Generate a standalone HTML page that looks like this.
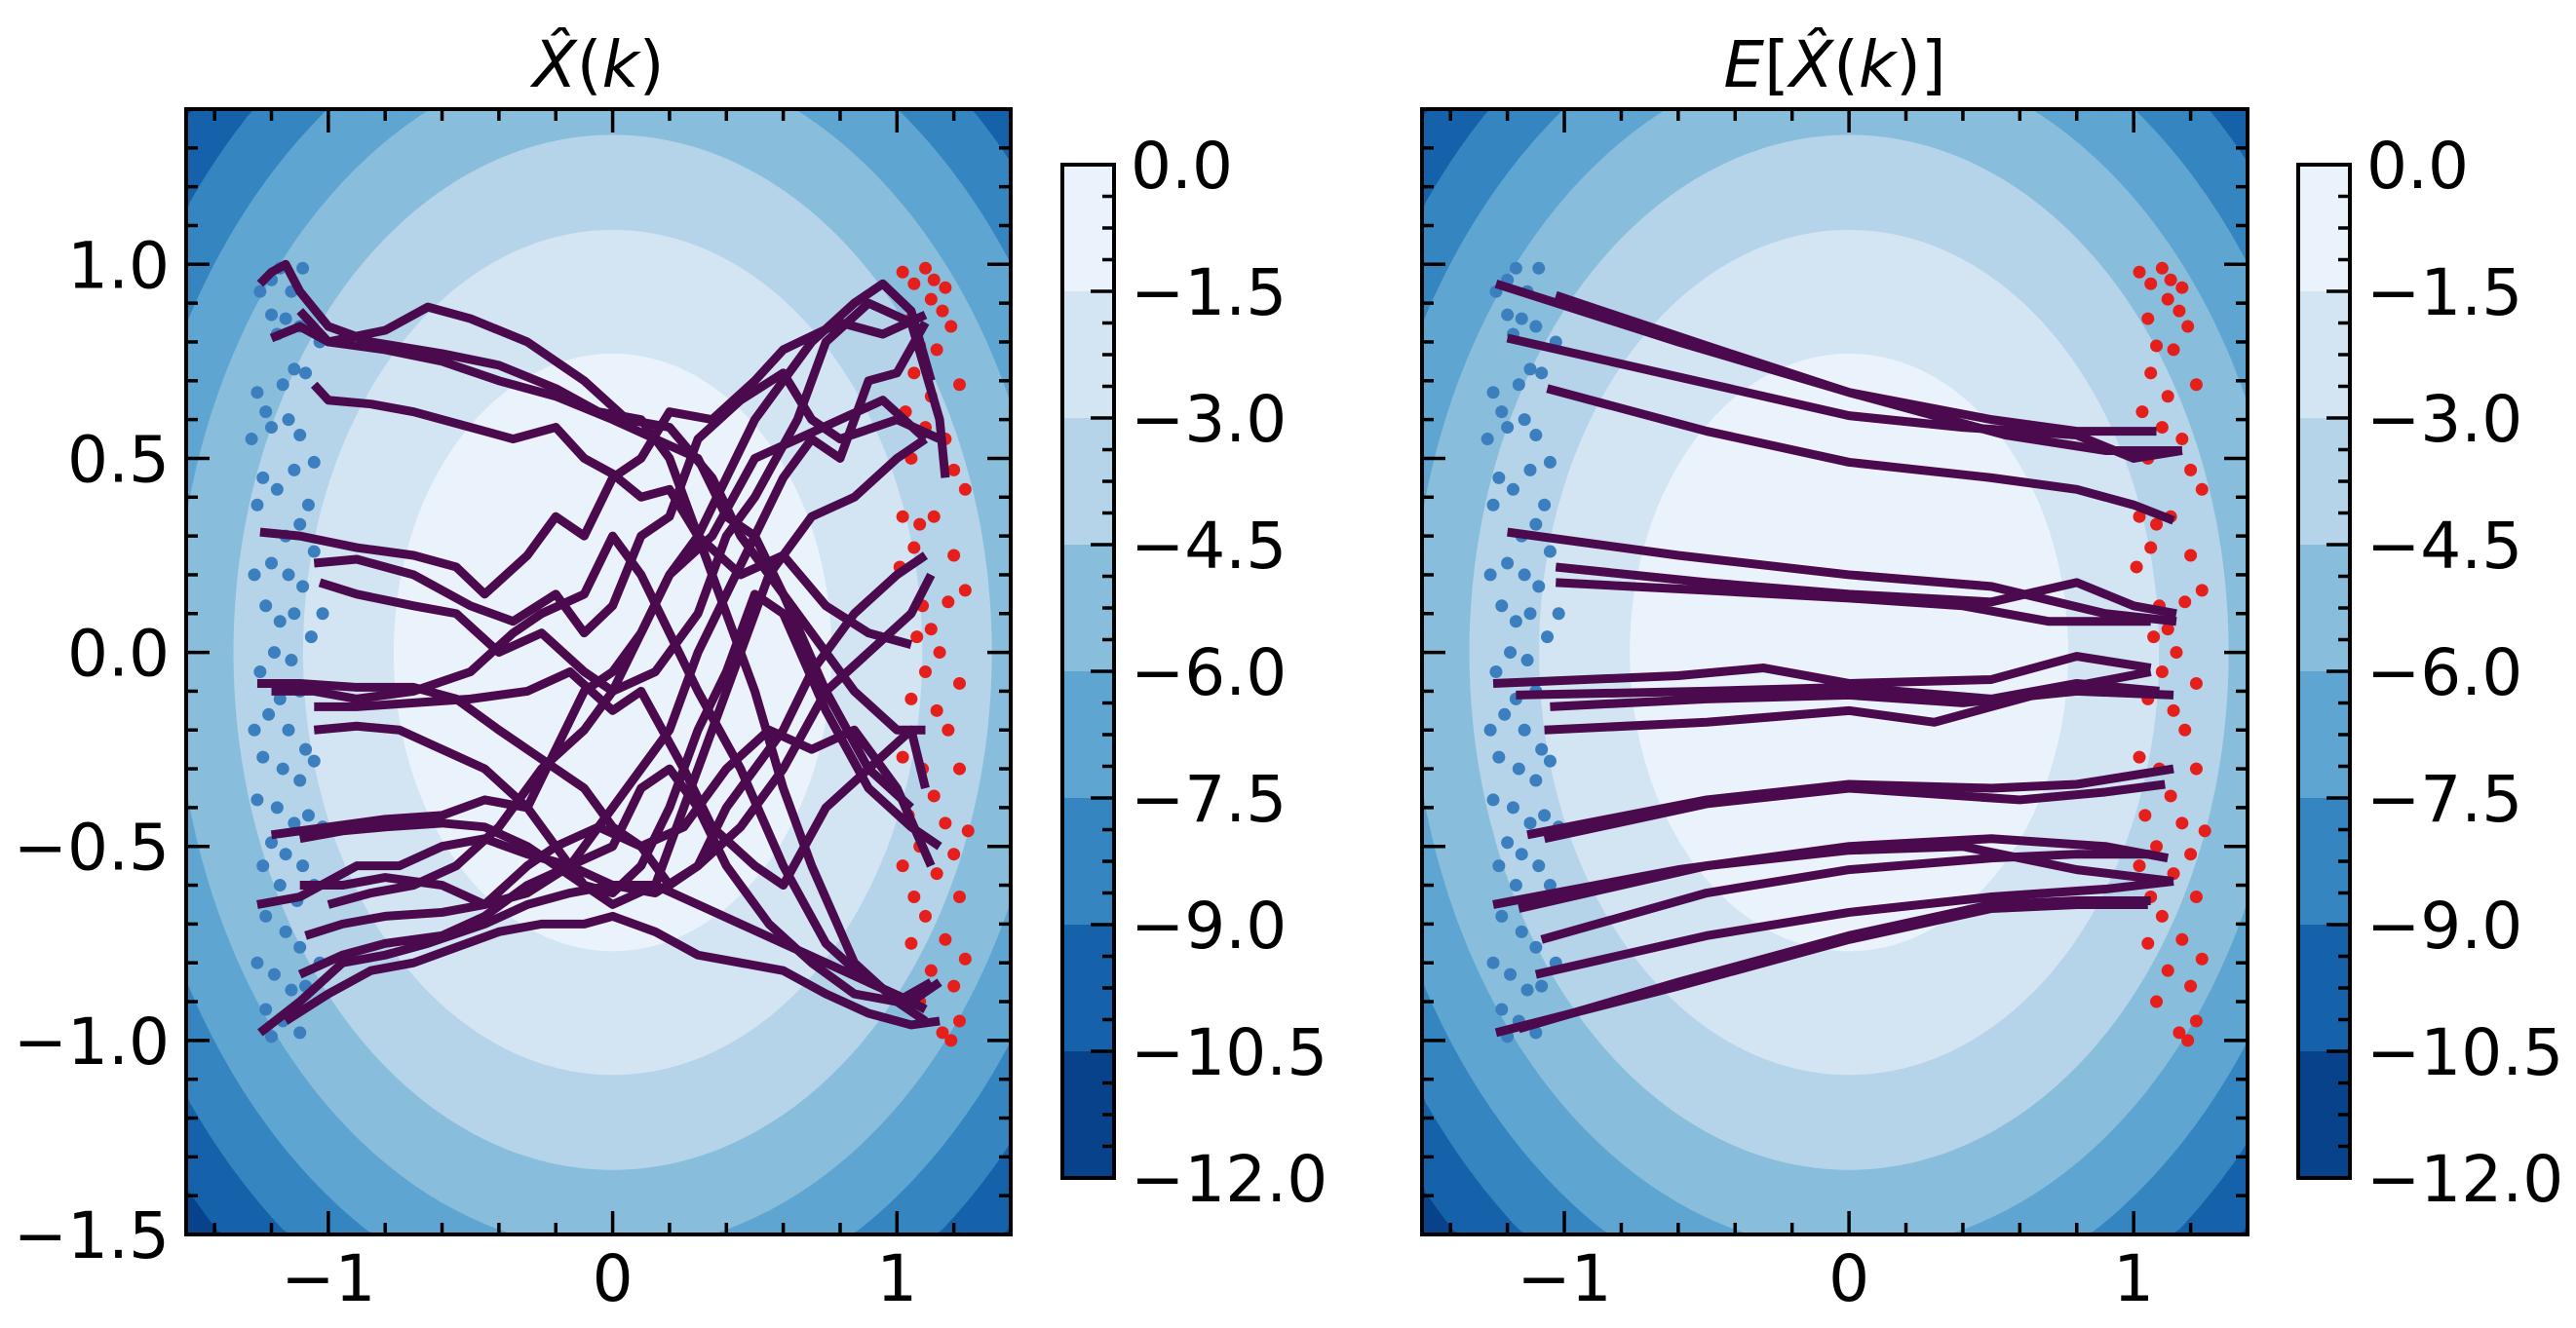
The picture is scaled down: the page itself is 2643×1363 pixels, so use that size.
<!DOCTYPE html>
<html><head><meta charset="utf-8"><style>
html,body{margin:0;padding:0;background:#fff;width:2643px;height:1363px;overflow:hidden}
svg{display:block}
text{font-family:"DejaVu Sans","Liberation Sans",sans-serif;font-size:66px;fill:#000}
</style></head><body>
<svg id="fig" width="2643" height="1363" viewBox="0 0 2643 1363" xmlns="http://www.w3.org/2000/svg"></svg>
<script>
// ---- data ----
const levels = [0, -1.5, -3, -4.5, -6, -7.5, -9, -10.5, -12];
const levelColors = ["#eaf3fb","#d3e4f3","#b5d4e9","#88bedc","#5ea5d1","#3585c0","#1662aa","#08428a"];
const contourCoef = 2.53; // f = -c (x^2 + y^2)
const xTicks = [-1, 0, 1];
const yTicks = [-1.5, -1.0, -0.5, 0.0, 0.5, 1.0];
const cbTicks = [0.0, -1.5, -3.0, -4.5, -6.0, -7.5, -9.0, -10.5, -12.0];
const bluePts = [[-1.24,0.93],[-1.2,0.96],[-1.17,0.99],[-1.13,0.93],[-1.09,0.99],[-1.2,0.87],[-1.15,0.86],[-1.1,0.84],[-1.18,0.82],[-1.25,0.67],[-1.22,0.62],[-1.16,0.69],[-1.12,0.73],[-1.08,0.72],[-1.2,0.58],[-1.14,0.6],[-1.1,0.56],[-1.05,0.49],[-1.23,0.45],[-1.18,0.42],[-1.12,0.47],[-1.07,0.38],[-1.25,0.38],[-1.15,0.3],[-1.1,0.33],[-1.05,0.26],[-1.2,0.23],[-1.14,0.2],[-1.09,0.17],[-1.22,0.12],[-1.17,0.08],[-1.12,0.1],[-1.06,0.04],[-1.19,0.0],[-1.13,-0.02],[-1.24,-0.05],[-1.17,-0.12],[-1.1,-0.1],[-1.21,-0.16],[-1.14,-0.2],[-1.08,-0.25],[-1.23,-0.27],[-1.16,-0.3],[-1.1,-0.33],[-1.05,-0.28],[-1.25,-0.38],[-1.18,-0.4],[-1.12,-0.44],[-1.07,-0.42],[-1.2,-0.49],[-1.15,-0.52],[-1.09,-0.55],[-1.23,-0.55],[-1.17,-0.6],[-1.11,-0.64],[-1.05,-0.6],[-1.22,-0.68],[-1.15,-0.72],[-1.1,-0.76],[-1.25,-0.8],[-1.19,-0.83],[-1.13,-0.87],[-1.08,-0.86],[-1.22,-0.92],[-1.16,-0.95],[-1.1,-0.98],[-1.2,-0.99],[-1.26,0.2],[-1.26,-0.2],[-1.03,0.8],[-1.03,-0.8],[-1.27,0.55],[-1.02,0.1],[-1.02,-0.45]];
const redPts = [[1.02,0.98],[1.06,0.95],[1.1,0.99],[1.13,0.96],[1.17,0.94],[1.12,0.91],[1.16,0.88],[1.05,0.86],[1.19,0.84],[1.08,0.79],[1.14,0.78],[1.22,0.69],[1.06,0.72],[1.12,0.66],[1.03,0.62],[1.1,0.58],[1.17,0.55],[1.05,0.5],[1.2,0.47],[1.24,0.42],[1.02,0.35],[1.08,0.33],[1.13,0.35],[1.06,0.27],[1.2,0.25],[1.24,0.16],[1.01,0.22],[1.09,0.12],[1.18,0.13],[1.12,0.06],[1.07,0.04],[1.15,0.0],[1.1,-0.05],[1.22,-0.08],[1.05,-0.12],[1.14,-0.15],[1.18,-0.2],[1.02,-0.27],[1.09,-0.3],[1.22,-0.3],[1.13,-0.37],[1.04,-0.42],[1.17,-0.44],[1.25,-0.46],[1.08,-0.5],[1.2,-0.52],[1.02,-0.55],[1.14,-0.57],[1.06,-0.63],[1.22,-0.63],[1.1,-0.68],[1.17,-0.74],[1.05,-0.75],[1.24,-0.79],[1.12,-0.82],[1.2,-0.86],[1.08,-0.9],[1.22,-0.95],[1.16,-0.98],[1.19,-1.0]];
const noisyLines = [
[[-1.24,0.95],[-1.2,0.98],[-1.15,1.0],[-1.1,0.93],[-1.0,0.84],[-0.85,0.8],[-0.6,0.77],[-0.4,0.74],[-0.2,0.68],[-0.05,0.62],[0.1,0.6],[0.2,0.5],[0.3,0.3],[0.4,0.1],[0.5,-0.1],[0.6,-0.35],[0.7,-0.55],[0.85,-0.8],[1.0,-0.9],[1.1,-0.95]],
[[-1.2,0.81],[-1.1,0.84],[-1.0,0.8],[-0.8,0.83],[-0.65,0.89],[-0.5,0.86],[-0.3,0.8],[-0.1,0.7],[0.05,0.6],[0.2,0.58],[0.35,0.45],[0.45,0.3],[0.55,0.2],[0.7,0.05],[0.85,-0.1],[1.0,-0.2],[1.1,-0.2]],
[[-1.05,0.69],[-1.0,0.65],[-0.85,0.64],[-0.7,0.62],[-0.5,0.58],[-0.35,0.55],[-0.2,0.58],[-0.1,0.5],[0.0,0.46],[0.1,0.4],[0.2,0.42],[0.3,0.3],[0.45,0.2],[0.6,0.25],[0.75,0.12],[0.9,0.05],[1.05,0.02]],
[[-1.1,0.88],[-1.0,0.8],[-0.8,0.78],[-0.6,0.75],[-0.4,0.7],[-0.2,0.66],[0.0,0.6],[0.15,0.55],[0.3,0.5],[0.4,0.35],[0.5,0.3],[0.6,0.15],[0.75,-0.1],[0.9,-0.3],[1.05,-0.4]],
[[-1.24,0.31],[-1.1,0.3],[-0.9,0.27],[-0.7,0.25],[-0.55,0.22],[-0.45,0.15],[-0.3,0.25],[-0.2,0.35],[-0.1,0.3],[0.0,0.45],[0.1,0.5],[0.2,0.62],[0.35,0.6],[0.5,0.7],[0.6,0.78],[0.8,0.85],[0.95,0.82],[1.1,0.87]],
[[-1.05,0.23],[-0.9,0.24],[-0.7,0.2],[-0.5,0.12],[-0.35,0.08],[-0.2,0.15],[-0.1,0.05],[0.0,0.12],[0.1,0.3],[0.2,0.35],[0.3,0.55],[0.45,0.65],[0.6,0.72],[0.7,0.6],[0.8,0.55],[1.0,0.6],[1.15,0.55]],
[[-1.03,0.18],[-0.9,0.15],[-0.7,0.12],[-0.55,0.1],[-0.4,0.0],[-0.25,0.05],[-0.1,-0.05],[0.0,-0.1],[0.15,-0.05],[0.3,0.1],[0.4,0.3],[0.5,0.4],[0.65,0.6],[0.75,0.8],[0.9,0.9],[1.05,0.85],[1.15,0.6],[1.17,0.45]],
[[-1.25,-0.08],[-1.1,-0.08],[-0.9,-0.09],[-0.7,-0.09],[-0.55,-0.12],[-0.4,-0.2],[-0.3,-0.25],[-0.2,-0.3],[-0.1,-0.35],[0.0,-0.45],[0.1,-0.5],[0.2,-0.6],[0.3,-0.55],[0.4,-0.4],[0.5,-0.3],[0.6,-0.2],[0.7,-0.05],[0.85,0.1],[1.0,0.2],[1.1,0.25]],
[[-1.2,-0.1],[-1.05,-0.1],[-0.9,-0.12],[-0.7,-0.1],[-0.5,-0.05],[-0.35,0.05],[-0.25,0.1],[-0.1,0.15],[0.0,0.3],[0.1,0.2],[0.2,0.05],[0.3,-0.1],[0.45,-0.3],[0.6,-0.55],[0.75,-0.75],[0.9,-0.85],[1.05,-0.9],[1.15,-0.85]],
[[-1.05,-0.14],[-0.9,-0.14],[-0.7,-0.13],[-0.5,-0.12],[-0.3,-0.1],[-0.15,-0.05],[0.0,-0.15],[0.1,-0.1],[0.25,-0.3],[0.35,-0.45],[0.5,-0.55],[0.6,-0.6],[0.75,-0.4],[0.9,-0.3],[1.05,-0.2],[1.1,-0.35]],
[[-1.05,-0.2],[-0.9,-0.19],[-0.75,-0.2],[-0.6,-0.25],[-0.45,-0.3],[-0.3,-0.4],[-0.2,-0.5],[-0.1,-0.6],[0.0,-0.65],[0.15,-0.6],[0.25,-0.4],[0.35,-0.2],[0.45,0.0],[0.55,0.2],[0.7,0.35],[0.85,0.4],[1.0,0.5],[1.1,0.55]],
[[-1.2,-0.47],[-1.0,-0.45],[-0.8,-0.43],[-0.6,-0.42],[-0.45,-0.38],[-0.3,-0.4],[-0.2,-0.25],[-0.1,-0.1],[0.0,-0.05],[0.1,0.05],[0.2,0.2],[0.3,0.3],[0.4,0.45],[0.5,0.6],[0.6,0.7],[0.7,0.8],[0.85,0.9],[0.95,0.95],[1.05,0.88],[1.12,0.7]],
[[-1.1,-0.48],[-0.95,-0.46],[-0.8,-0.45],[-0.6,-0.44],[-0.45,-0.45],[-0.3,-0.5],[-0.2,-0.55],[-0.1,-0.6],[0.0,-0.62],[0.1,-0.55],[0.2,-0.4],[0.3,-0.2],[0.4,-0.05],[0.5,0.15],[0.6,0.1],[0.75,-0.15],[0.9,-0.35],[1.05,-0.45],[1.15,-0.5]],
[[-1.25,-0.65],[-1.1,-0.63],[-0.9,-0.55],[-0.75,-0.55],[-0.6,-0.5],[-0.45,-0.48],[-0.3,-0.52],[-0.15,-0.55],[0.0,-0.6],[0.15,-0.6],[0.3,-0.65],[0.45,-0.7],[0.6,-0.75],[0.75,-0.8],[0.9,-0.85],[1.05,-0.9],[1.1,-0.92]],
[[-1.1,-0.6],[-0.95,-0.6],[-0.8,-0.58],[-0.6,-0.6],[-0.45,-0.65],[-0.3,-0.62],[-0.15,-0.55],[-0.05,-0.45],[0.1,-0.3],[0.2,-0.2],[0.3,0.0],[0.4,0.15],[0.5,0.3],[0.6,0.45],[0.7,0.55],[0.8,0.5],[0.9,0.7],[1.0,0.72],[1.1,0.85]],
[[-1.08,-0.73],[-0.95,-0.7],[-0.8,-0.68],[-0.6,-0.67],[-0.45,-0.65],[-0.3,-0.55],[-0.2,-0.5],[-0.05,-0.45],[0.1,-0.5],[0.25,-0.45],[0.4,-0.3],[0.55,-0.2],[0.7,-0.25],[0.85,-0.2],[1.0,-0.35],[1.12,-0.55]],
[[-1.1,-0.83],[-0.95,-0.78],[-0.8,-0.75],[-0.6,-0.73],[-0.45,-0.68],[-0.3,-0.6],[-0.15,-0.55],[0.0,-0.5],[0.1,-0.35],[0.2,-0.3],[0.3,-0.4],[0.4,-0.55],[0.55,-0.7],[0.7,-0.8],[0.85,-0.88],[1.0,-0.9],[1.12,-0.85]],
[[-1.24,-0.98],[-1.1,-0.9],[-0.95,-0.8],[-0.8,-0.78],[-0.65,-0.75],[-0.45,-0.7],[-0.3,-0.65],[-0.15,-0.62],[0.0,-0.6],[0.15,-0.62],[0.3,-0.55],[0.45,-0.45],[0.6,-0.3],[0.75,-0.1],[0.9,0.0],[1.05,0.1],[1.12,0.2]],
[[-1.15,-0.95],[-1.0,-0.88],[-0.85,-0.82],[-0.7,-0.8],[-0.55,-0.76],[-0.4,-0.72],[-0.25,-0.7],[-0.1,-0.7],[0.0,-0.68],[0.15,-0.72],[0.3,-0.78],[0.45,-0.8],[0.6,-0.82],[0.75,-0.88],[0.9,-0.93],[1.05,-0.96],[1.15,-0.95]],
[[-1.0,-0.65],[-0.85,-0.62],[-0.7,-0.6],[-0.55,-0.55],[-0.4,-0.45],[-0.25,-0.3],[-0.1,-0.2],[0.0,-0.1],[0.1,0.05],[0.2,0.2],[0.35,0.3],[0.5,0.5],[0.65,0.55],[0.8,0.6],[0.95,0.65],[1.1,0.55]]
];
const meanLines = [
[[-1.24,0.95],[-0.6,0.8],[0.0,0.67],[0.5,0.6],[0.8,0.57],[1.08,0.57]],
[[-1.03,0.92],[-0.5,0.79],[0.0,0.67],[0.55,0.56],[0.9,0.52],[1.17,0.52]],
[[-1.2,0.81],[-0.6,0.71],[0.0,0.61],[0.4,0.58],[0.8,0.56],[1.0,0.5],[1.17,0.52]],
[[-1.06,0.68],[-0.5,0.57],[0.0,0.49],[0.5,0.45],[0.8,0.42],[1.0,0.38],[1.14,0.34]],
[[-1.2,0.31],[-0.6,0.25],[0.0,0.2],[0.5,0.17],[0.9,0.1],[1.15,0.08]],
[[-1.03,0.22],[-0.5,0.18],[0.0,0.15],[0.5,0.13],[0.8,0.18],[1.0,0.12],[1.15,0.1]],
[[-1.03,0.18],[-0.5,0.16],[0.0,0.14],[0.4,0.12],[0.7,0.08],[1.06,0.08]],
[[-1.25,-0.08],[-0.6,-0.06],[-0.3,-0.04],[0.0,-0.08],[0.5,-0.07],[0.8,-0.01],[1.06,-0.04]],
[[-1.17,-0.11],[-0.5,-0.1],[0.0,-0.09],[0.5,-0.12],[0.8,-0.08],[1.09,-0.1]],
[[-1.05,-0.14],[-0.5,-0.12],[0.0,-0.11],[0.4,-0.13],[0.8,-0.1],[1.14,-0.11]],
[[-1.07,-0.2],[-0.5,-0.18],[0.0,-0.15],[0.3,-0.18],[0.7,-0.1],[1.06,-0.05]],
[[-1.13,-0.47],[-0.5,-0.38],[0.0,-0.34],[0.5,-0.35],[0.8,-0.34],[1.14,-0.3]],
[[-1.07,-0.48],[-0.5,-0.39],[0.0,-0.35],[0.6,-0.38],[0.9,-0.36],[1.11,-0.34]],
[[-1.25,-0.65],[-0.6,-0.56],[0.0,-0.5],[0.5,-0.48],[0.9,-0.5],[1.12,-0.53]],
[[-1.16,-0.66],[-0.5,-0.55],[0.0,-0.51],[0.4,-0.5],[0.8,-0.56],[1.14,-0.59]],
[[-1.08,-0.74],[-0.5,-0.62],[0.0,-0.56],[0.5,-0.53],[0.8,-0.52],[1.06,-0.52]],
[[-1.1,-0.83],[-0.5,-0.73],[0.0,-0.67],[0.5,-0.63],[0.9,-0.61],[1.14,-0.59]],
[[-1.24,-0.98],[-0.6,-0.86],[0.0,-0.74],[0.5,-0.66],[0.8,-0.65],[1.05,-0.65]],
[[-1.16,-0.97],[-0.6,-0.85],[0.0,-0.73],[0.5,-0.65],[0.8,-0.64],[1.06,-0.64]]
];
// ---- rendering ----
const NS = "http://www.w3.org/2000/svg";
const svg = document.getElementById("fig");
function mk(tag, attrs, parent){ const e=document.createElementNS(NS,tag); for(const k in attrs) e.setAttribute(k,attrs[k]); (parent||svg).appendChild(e); return e; }
const XMIN=-1.5, XMAX=1.4, YMIN=-1.5, YMAX=1.4;
function panel(idx, left, right, title, lines, cbLeft){
  const top=112, bottom=1267;
  const sx = v => left + (v-XMIN)/(XMAX-XMIN)*(right-left);
  const sy = v => bottom - (v-YMIN)/(YMAX-YMIN)*(bottom-top);
  const clampX = v => Math.min(right, Math.max(left, v));
  const clampY = v => Math.min(bottom, Math.max(top, v));
  const g = mk("g",{});
  
  
  const clip = mk("clipPath",{id:"clip"+idx}, g);
  mk("rect",{x:left,y:top,width:right-left,height:bottom-top}, clip);
  const cg = mk("g",{"clip-path":"url(#clip"+idx+")"}, g);
  
  
  mk("rect",{x:left,y:top,width:right-left,height:bottom-top,fill:levelColors[7]}, cg);
  for(let i=levels.length-2;i>=1;i--){
    const r = Math.sqrt(-levels[i]/contourCoef);
    const p = [];
    for(let a=0;a<360;a+=1){ const t=a*Math.PI/180; p.push(clampX(sx(r*Math.cos(t))).toFixed(1)+","+clampY(sy(r*Math.sin(t))).toFixed(1)); }
    const e = mk("polygon",{points:p.join(" "),fill:levelColors[i-1]}, cg);
    
    
  }
  const pts = mk("g",{},cg);
  
  
  bluePts.forEach(p=>{ const c=mk("circle",{cx:sx(p[0]),cy:sy(p[1]),r:6.5,fill:"#3b7fbf"},pts);   });
  const rpts = mk("g",{},cg);
  
  
  redPts.forEach(p=>{ const c=mk("circle",{cx:sx(p[0]),cy:sy(p[1]),r:6.5,fill:"#e5201c"},rpts);   });
  lines.forEach(L=>{
    const pl = mk("polyline",{points:L.map(p=>sx(p[0])+","+sy(p[1])).join(" "),fill:"none",stroke:"#4a0a4d","stroke-width":9,"stroke-linejoin":"round","stroke-linecap":"butt"}, cg);
    
    
  });
  const fr = mk("rect",{x:left,y:top,width:right-left,height:bottom-top,fill:"none",stroke:"#000","stroke-width":4}, g);
  
  
  const tk = mk("g",{stroke:"#000","stroke-width":3.5},g);
  for(let v=-1.4; v<=1.41; v+=0.2){ const x=sx(v); const maj=Math.abs(v-Math.round(v))<1e-6; const L=maj?24:12;
    mk("line",{x1:x,y1:bottom,x2:x,y2:bottom-L},tk); mk("line",{x1:x,y1:top,x2:x,y2:top+L},tk); }
  for(let v=-1.5; v<=1.41; v+=0.1){ const y=sy(v); const maj=Math.abs(v*2-Math.round(v*2))<1e-6; const L=maj?24:12;
    mk("line",{x1:left,y1:y,x2:left+L,y2:y},tk); mk("line",{x1:right,y1:y,x2:right-L,y2:y},tk); }
  xTicks.forEach(v=>{ const t=mk("text",{x:sx(v),y:1335,"text-anchor":"middle"},g); t.textContent=(v<0?"\u2212":"")+Math.abs(v);   });
  if(idx===1) yTicks.forEach(v=>{ const t=mk("text",{x:174,y:sy(v)+24,"text-anchor":"end"},g); t.textContent=(v<0?"\u2212":"")+Math.abs(v).toFixed(1);   });
  const tt = mk("text",{x:(left+right)/2,y:89,"text-anchor":"middle"},g);
  tt.innerHTML = title;
  
  
  const ct=169, cb=1209, cw=53;
  const cy = v => ct + (0-v)/12*(cb-ct);
  const cbg = mk("g",{},g);
  
  
  for(let i=0;i<levels.length-1;i++){
    mk("rect",{x:cbLeft,y:cy(levels[i]),width:cw,height:cy(levels[i+1])-cy(levels[i])+0.5,fill:levelColors[i]},cbg);
  }
  mk("rect",{x:cbLeft,y:ct,width:cw,height:cb-ct,fill:"none",stroke:"#000","stroke-width":4},cbg);
  for(let v=0; v>=-12; v-=0.375){ const maj=Math.abs(v/1.5-Math.round(v/1.5))<1e-6; const L=maj?24:12;
    mk("line",{x1:cbLeft+cw,y1:cy(v),x2:cbLeft+cw-L,y2:cy(v),stroke:"#000","stroke-width":3.5},cbg); }
  cbTicks.forEach(v=>{ const t=mk("text",{x:cbLeft+cw+17,y:cy(v)+24},cbg); t.textContent=(v<0?"\u2212":"")+Math.abs(v).toFixed(1);   });
}
panel(1, 191, 1037, '<tspan font-style="italic">X̂</tspan>(<tspan font-style="italic">k</tspan>)', noisyLines, 1090);
panel(2, 1459, 2306, '<tspan font-style="italic">E</tspan>[<tspan font-style="italic">X̂</tspan>(<tspan font-style="italic">k</tspan>)]', meanLines, 2358);
</script>
</body></html>
